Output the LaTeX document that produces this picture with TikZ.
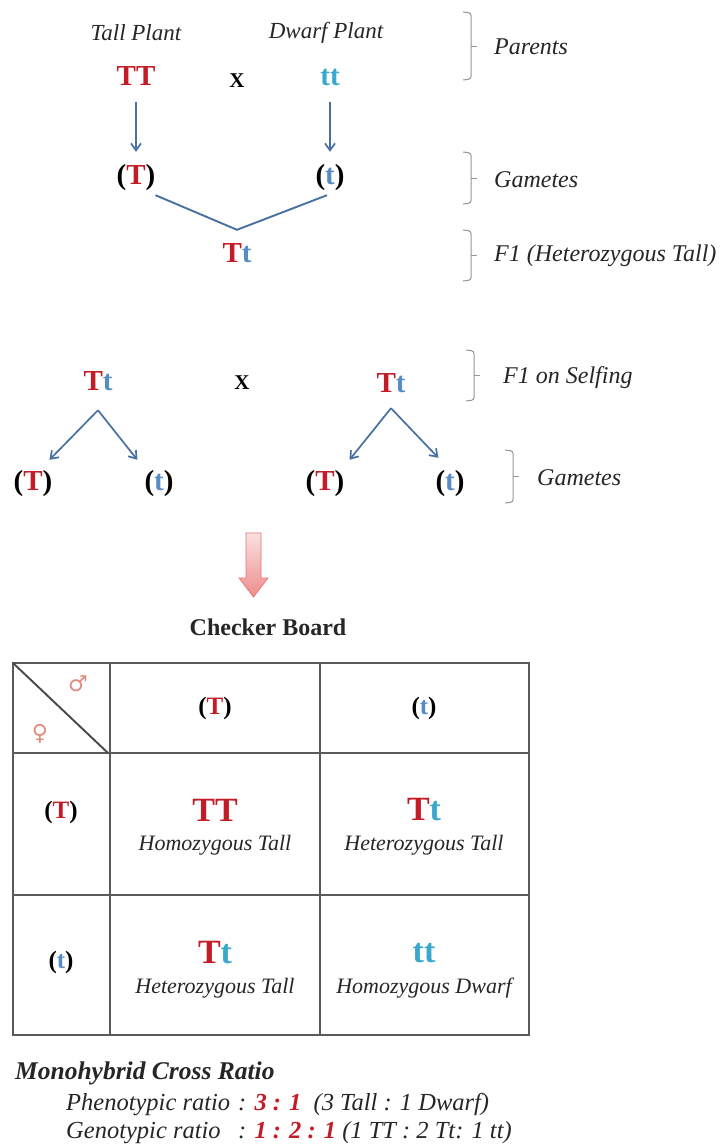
\documentclass[tikz,border=0pt]{standalone}
\usepackage{fontspec}
\setmainfont{Liberation Serif}
\newfontfamily\symfont{DejaVu Sans}
\usetikzlibrary{arrows.meta}
\definecolor{redT}{RGB}{196,28,38}
\definecolor{cyanT}{RGB}{56,168,204}
\definecolor{blueT}{RGB}{88,140,196}
\definecolor{arrC}{RGB}{72,112,160}
\definecolor{txtC}{RGB}{38,38,38}
\definecolor{brC}{RGB}{150,150,150}
\definecolor{gridC}{RGB}{90,90,90}
\definecolor{sexC}{RGB}{226,140,125}
\definecolor{pinkA}{RGB}{250,225,225}
\definecolor{pinkB}{RGB}{238,140,140}
\newcommand\fs[1]{\fontsize{#1}{#1}\selectfont}
\newcommand\R[1]{\textcolor{redT}{#1}}
\newcommand\B[1]{\textcolor{blueT}{#1}}
\newcommand\C[1]{\textcolor{cyanT}{#1}}
% bracket-style brace: x, top y, bottom y
\newcommand\sidebrace[3]{%
  \draw[bracebox] (#1,#2) -- ({#1+8},{#2+1}) -- ({#1+8},{#3-1}) -- (#1,#3);
  \draw[bracebox] ({#1+8},{(#2+#3)/2}) -- ({#1+14},{(#2+#3)/2});
}
\begin{document}
\begin{tikzpicture}[x=1pt,y=-1pt,
  lab/.style={font=\fs{23}\itshape, text=txtC, inner sep=0},
  side/.style={font=\fs{24}\itshape, text=txtC, anchor=west, inner sep=0},
  geno/.style={font=\fs{29}\bfseries, inner sep=0, text height=20pt, text depth=6pt},
  cross/.style={font=\fs{21}\bfseries, inner sep=0},
  arr/.style={draw=arrC, line width=1.7pt, -{Straight Barb[length=7pt,width=10pt,line width=1.7pt]}},
  conn/.style={draw=arrC, line width=1.9pt},
  bracebox/.style={draw=brC, line width=1pt, rounded corners=2.5pt},
  cellg/.style={font=\fs{34}\bfseries, inner sep=0},
  cellh/.style={font=\fs{25}\bfseries, inner sep=0},
  celll/.style={font=\fs{22}\itshape, text=txtC, inner sep=0},
  sex/.style={font=\fs{22}\symfont, text=sexC, inner sep=0},
  ratio/.style={font=\fs{24.5}\itshape, text=black!85, anchor=west, inner sep=0}
]
\useasboundingbox (0,0) rectangle (726,1146);
\fill[white] (0,0) rectangle (726,1146);

% ---------- parents ----------
\node[lab] (tallp) at (136,33) {Tall Plant};
\node[lab] (dwarfp) at (326,33) {Dwarf Plant};
\node[geno, text=redT] (TT) at (136,78) {TT};
\node[cross] (x1) at (237,81) {X};
\node[geno, text=cyanT] (tt) at (330,78) {tt};
\node[geno] (gT) at (136,177) {(\R{T})};
\node[geno] (gt) at (330,177) {(\B{t})};
\node[geno] (F1) at (237,255) {\R{T}\B{t}};
\draw[arr, shorten <=11pt, shorten >=12pt] (TT) -- (gT);
\draw[arr, shorten <=11pt, shorten >=12pt] (tt) -- (gt);
\coordinate (join) at ([yshift=12pt]F1.north);
\draw[conn] ([yshift=-5pt]gT.south east) -- (join) -- ([xshift=-3pt,yshift=-5pt]gt.south);

\sidebrace{463}{12}{80}
\node[side] (parents) at (494,47) {Parents};
\sidebrace{463}{152}{204}
\node[side] (gam1) at (494,180) {Gametes};
\sidebrace{463}{230}{281}
\node[side] (f1lab) at (494,256) {F1 (Heterozygous Tall)};

% ---------- F1 selfing ----------
\node[geno] (Tt1) at (98,383) {\R{T}\B{t}};
\node[cross] (x2) at (242,383) {X};
\node[geno] (Tt2) at (391,385) {\R{T}\B{t}};
\node[geno] (g1T) at (33,483) {(\R{T})};
\node[geno] (g1t) at (159,483) {(\B{t})};
\node[geno] (g2T) at (325,483) {(\R{T})};
\node[geno] (g2t) at (450,483) {(\B{t})};
\coordinate (a1) at ([yshift=-14pt]Tt1.south);
\coordinate (a2) at ([yshift=-10pt]Tt2.south);
\draw[arr] (a1) -- ([xshift=-3pt,yshift=10pt]g1T.north east);
\draw[arr] (a1) -- ([xshift=-7pt,yshift=10pt]g1t.north west);
\draw[arr] (a2) -- ([xshift=5pt,yshift=10pt]g2T.north east);
\draw[arr] (a2) -- ([xshift=3pt,yshift=12pt]g2t.north west);

\sidebrace{466}{350}{401}
\node[side] (selfing) at (503,378) {F1 on Selfing};
\sidebrace{505}{450}{503}
\node[side] (gam2) at (537,478) {Gametes};

% ---------- block arrow ----------
\path[draw=pinkB!80!red, line width=0.7pt, top color=pinkA, bottom color=pinkB]
  (246,533) -- (261,533) -- (261,578) -- (268,578) -- (253.5,597) -- (239,578) -- (246,578) -- cycle;
\node[font=\fs{24}\bfseries, text=black!85, inner sep=0] (checker) at (268,627) {Checker Board};

% ---------- checker board ----------
\draw[gridC, line width=1.4pt] (13,663) rectangle (529,1035);
\draw[gridC, line width=1.4pt] (110,663) -- (110,1035);
\draw[gridC, line width=1.4pt] (320,663) -- (320,1035);
\draw[gridC, line width=1.4pt] (13,753) -- (529,753);
\draw[gridC, line width=1.4pt] (13,895) -- (529,895);
\draw[gridC!80!black, line width=1.9pt] (13,663) -- (108,753);
\node[sex] (male) at (78,684) {♂};
\node[sex] (female) at (40,734) {♀};

\node[cellh] (hT) at (215,708) {(\R{T})};
\node[cellh] (ht) at (424,708) {(\B{t})};
\node[cellh] (rT) at (61,812) {(\R{T})};
\node[cellh] (rt) at (61,962) {(\B{t})};

\node[cellg, text=redT] (c11) at (215,810) {TT};
\node[celll] (l11) at (215,845) {Homozygous Tall};
\node[cellg] (c12) at (424,810) {\R{T}\C{t}};
\node[celll] (l12) at (424,845) {Heterozygous Tall};
\node[cellg] (c21) at (215,953) {\R{T}\C{t}};
\node[celll] (l21) at (215,988) {Heterozygous Tall};
\node[cellg, text=cyanT] (c22) at (424,953) {tt};
\node[celll] (l22) at (424,988) {Homozygous Dwarf};

% ---------- ratios ----------
\node[font=\fs{25.5}\bfseries\itshape, text=black!85, anchor=west, inner sep=0] (mono) at (15,1073) {Monohybrid Cross Ratio};
\node[ratio] (pheno) at (66,1105) {\makebox[172pt][l]{Phenotypic ratio}: \textbf{\R{3 : 1}}\enspace(3 Tall : 1 Dwarf)};
\node[ratio] (geno) at (66,1133) {\makebox[172pt][l]{Genotypic ratio}: \textbf{\R{1 : 2 : 1}} (1 TT : 2 Tt: 1 tt)};
\end{tikzpicture}
\end{document}
